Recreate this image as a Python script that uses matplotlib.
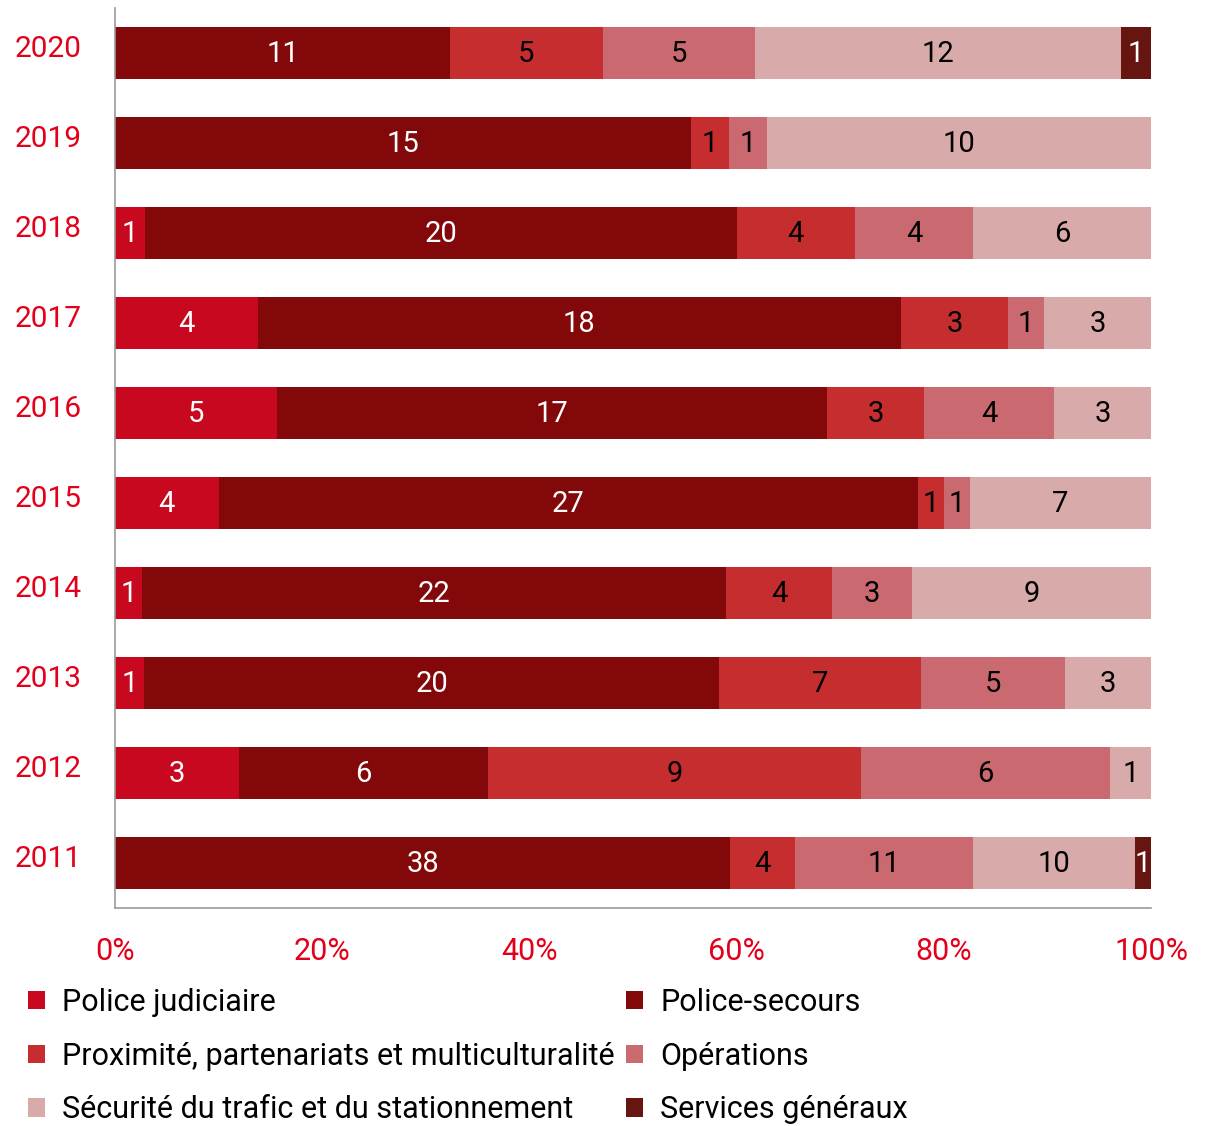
import numpy as np
import matplotlib.pyplot as plt
import matplotlib.transforms as mtransforms
from matplotlib.patches import Patch

plt.rcParams['font.family'] = ['Roboto', 'DejaVu Sans']

years = ['2011', '2012', '2013', '2014', '2015', '2016', '2017', '2018', '2019', '2020']
categories = ['Police judiciaire', 'Police-secours',
              'Proximité, partenariats et multiculturalité', 'Opérations',
              'Sécurité du trafic et du stationnement', 'Services généraux']

police_judiciaire = [0, 3, 1, 1, 4, 5, 4, 1, 0, 0]
police_secours = [38, 6, 20, 22, 27, 17, 18, 20, 15, 11]
proximite = [4, 9, 7, 4, 1, 3, 3, 4, 1, 5]
operations = [11, 6, 5, 3, 1, 4, 1, 4, 1, 5]
trafic = [10, 1, 3, 9, 7, 3, 3, 6, 10, 12]
services_generaux = [1, 0, 0, 0, 0, 0, 0, 0, 0, 1]

colors = ['#C8081E', '#82080A', '#C62D2F', '#CA6A70', '#D9AAAA', '#661510']
text_colors = ['white', 'white', 'black', 'black', 'black', 'white']
red = '#E2001A'

series = np.array([police_judiciaire, police_secours, proximite,
                   operations, trafic, services_generaux], dtype=float)
totals = series.sum(axis=0)
shares = series / totals

fig = plt.figure(figsize=(12.06, 11.26), dpi=100)
ax = fig.add_axes([115 / 1206, 1 - 908 / 1126, 1036 / 1206, 900 / 1126])

y = np.arange(len(years))
left = np.zeros(len(years))
for i, cat in enumerate(categories):
    bars = ax.barh(y, shares[i], left=left, height=0.58, color=colors[i],
                   label=cat, linewidth=0)
    for j, b in enumerate(bars):
        if series[i, j] > 0:
            ax.text(left[j] + shares[i, j] / 2, y[j] - 0.01, '%d' % series[i, j],
                    ha='center', va='center', fontsize=21, color=text_colors[i])
    left += shares[i]

ax.set_xlim(0, 1)
ax.set_ylim(-0.5, 9.5)
ax.set_xticks(np.linspace(0, 1, 6))
ax.set_xticklabels(['0%', '20%', '40%', '60%', '80%', '100%'])
ax.tick_params(axis='x', length=0, pad=21, labelsize=22, labelcolor=red)
ax.set_yticks([])
for s in ['top', 'right']:
    ax.spines[s].set_visible(False)
for s in ['left', 'bottom']:
    ax.spines[s].set_color('#999999')
    ax.spines[s].set_linewidth(1.2)

trans = mtransforms.blended_transform_factory(fig.transFigure, ax.transData)
for j, yr in enumerate(years):
    ax.text(15 / 1206, y[j] + 0.04, yr, transform=trans, ha='left',
            va='center', fontsize=21.5, color=red)

order = [0, 2, 4, 1, 3, 5]
handles = [Patch(facecolor=colors[k], edgecolor='none') for k in order]
labels = [categories[k] for k in order]
fig.legend(handles, labels, ncol=2, loc='upper left',
           bbox_to_anchor=(28 / 1206, 1 - 988 / 1126), frameon=False,
           fontsize=22, handlelength=0.55, handleheight=0.55,
           handletextpad=0.55, columnspacing=0.4, labelspacing=0.81,
           borderaxespad=0, borderpad=0)

fig.savefig('out.png', dpi=100)
